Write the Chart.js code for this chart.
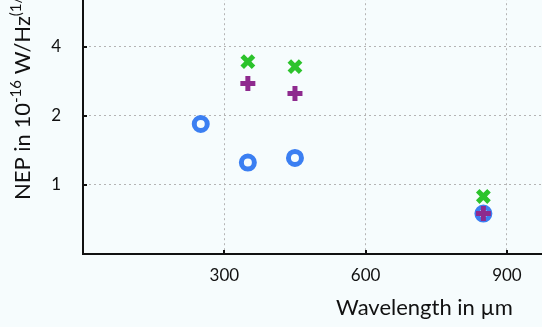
<!DOCTYPE html>
<html>
<head>
<meta charset="utf-8">
<script src="https://cdn.jsdelivr.net/npm/chart.js@4.4.1/dist/chart.umd.min.js"></script>
<style>
  html, body { margin: 0; padding: 0; background: #f6fcfd; }
  #frame { position: relative; width: 542px; height: 327px; overflow: hidden; background: #f6fcfd; }
  #nep { position: absolute; left: 0; top: -124px; }
</style>
</head>
<body>
<div id="frame"><canvas id="nep" width="766" height="451"></canvas></div>
<script>
// wavelengths in µm, NEP in 1e-16 W/Hz^(1/2)
const waveRings = [250, 350, 450, 850];
const nepRings = [1.84, 1.25, 1.31, 0.75];
const waveCross = [350, 450, 850];
const nepCrossRot = [3.44, 3.27, 0.89];
const nepPlus = [2.76, 2.50, 0.75];
const xTicks = [300, 600, 900, 1200];
const yTicks = [1, 2, 4, 8];
// y title pieces: [text, superscript?]
const yTitleParts = [['NEP in 10', false], ['-16', true], [' W/Hz', false], ['(1/2)', true]];

const toPoints = (xs, ys) => xs.map((x, i) => ({ x: x, y: ys[i] }));

// short tick marks pointing into the plot, like the original
const innerTicks = {
  id: 'innerTicks',
  beforeDatasetsDraw(chart) {
    const ctx = chart.ctx;
    const xs = chart.scales.x;
    const ys = chart.scales.y;
    const area = chart.chartArea;
    ctx.save();
    ctx.strokeStyle = '#111';
    ctx.lineWidth = 2;
    ctx.beginPath();
    xTicks.forEach((v) => {
      const px = Math.round(xs.getPixelForValue(v));
      ctx.moveTo(px, area.bottom);
      ctx.lineTo(px, area.bottom - 4);
    });
    yTicks.forEach((v) => {
      const py = Math.round(ys.getPixelForValue(v));
      ctx.moveTo(area.left, py);
      ctx.lineTo(area.left + 4, py);
    });
    ctx.stroke();
    ctx.restore();
  }
};

// rotated y title with real superscripts
const yTitle = {
  id: 'yTitle',
  afterDraw(chart) {
    const ctx = chart.ctx;
    const area = chart.chartArea;
    ctx.save();
    ctx.translate(30, area.bottom - 54);
    ctx.rotate(-Math.PI / 2);
    ctx.fillStyle = '#111';
    ctx.textAlign = 'left';
    ctx.textBaseline = 'alphabetic';
    let pos = 0;
    yTitleParts.forEach(([text, sup]) => {
      ctx.font = sup ? '15px Lato' : '22px Lato';
      ctx.fillText(text, pos, sup ? -9 : 0);
      pos += ctx.measureText(text).width;
    });
    ctx.restore();
  }
};

const ctx = document.getElementById('nep').getContext('2d');
new Chart(ctx, {
  type: 'scatter',
  data: {
    datasets: [
      {
        label: 'plus',
        data: toPoints(waveCross, nepPlus),
        pointStyle: 'cross',
        pointRadius: 7.5,
        pointBorderWidth: 5,
        borderColor: '#8e2a8e',
        backgroundColor: '#8e2a8e',
      },
      {
        label: 'x',
        data: toPoints(waveCross, nepCrossRot),
        pointStyle: 'crossRot',
        pointRadius: 8,
        pointBorderWidth: 5,
        borderColor: '#2cc32c',
        backgroundColor: '#2cc32c',
      },
      {
        label: 'ring',
        data: toPoints(waveRings, nepRings),
        pointStyle: 'circle',
        pointRadius: 6.5,
        pointBorderWidth: 5,
        borderColor: '#3b7ff2',
        backgroundColor: 'rgba(0,0,0,0)',
      },
    ],
  },
  options: {
    responsive: false,
    animation: false,
    devicePixelRatio: 1,
    layout: { autoPadding: false, padding: 0 },
    plugins: {
      legend: { display: false },
      tooltip: { enabled: false },
    },
    scales: {
      x: {
        type: 'linear',
        bounds: 'data',
        min: 0,
        max: 1450,
        afterBuildTicks: (scale) => { scale.ticks = xTicks.map((v) => ({ value: v })); },
        afterFit: (scale) => { scale.height = 73; },
        grid: { color: '#b4b4b4', lineWidth: 1, drawTicks: false },
        border: { display: true, color: '#111', width: 2, dash: [2, 3] },
        ticks: { padding: 11, color: '#111', font: { family: 'Lato', size: 17 } },
        title: {
          display: true,
          text: 'Wavelength in µm',
          color: '#111',
          font: { family: 'Lato', size: 22 },
          padding: { top: 0, bottom: 6 },
        },
      },
      y: {
        type: 'logarithmic',
        bounds: 'data',
        min: 0.5,
        max: 16,
        afterBuildTicks: (scale) => { scale.ticks = yTicks.map((v) => ({ value: v })); },
        afterFit: (scale) => { scale.width = 83; },
        grid: { color: '#b4b4b4', lineWidth: 1, drawTicks: false },
        border: { display: true, color: '#111', width: 2, dash: [2, 3] },
        ticks: {
          padding: 22,
          color: '#111',
          font: { family: 'Lato', size: 17 },
          callback: (v) => String(v),
        },
        title: { display: false },
      },
    },
  },
  plugins: [innerTicks, yTitle],
});
</script>
</body>
</html>
